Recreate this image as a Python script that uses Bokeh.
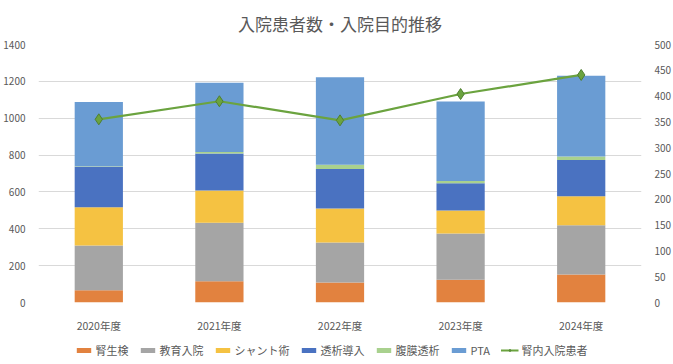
from bokeh.plotting import figure
from bokeh.layouts import column
from bokeh.models import (ColumnDataSource, FactorRange, Range1d, LinearAxis,
                          Legend, LegendItem, FixedTicker, Title)
from bokeh.embed import file_html
from bokeh.resources import INLINE

years = ["2020年度", "2021年度", "2022年度", "2023年度", "2024年度"]
series_names = ["腎生検", "教育入院", "シャント術", "透析導入", "腹膜透析", "PTA"]
biopsy = [67, 115, 108, 124, 152]
education = [242, 318, 217, 251, 267]
shunt = [208, 175, 185, 124, 158]
dialysis_intro = [220, 201, 215, 148, 196]
peritoneal = [3, 7, 23, 12, 19]
pta = [348, 376, 474, 432, 439]
inpatients = [355, 390, 353, 404, 441]
left_ticks = [0, 200, 400, 600, 800, 1000, 1200, 1400]
right_ticks = [0, 50, 100, 150, 200, 250, 300, 350, 400, 450, 500]

colors = ["#E2823F", "#A5A5A5", "#F5C242", "#4A72C1", "#A9D18E", "#6A9CD3"]
line_color = "#6BA33F"
FONT = "Noto Sans CJK JP"
TXT = "#595959"

keys = ["s0", "s1", "s2", "s3", "s4", "s5"]
data = dict(years=years, inpatients=inpatients)
for k, vals in zip(keys, [biopsy, education, shunt, dialysis_intro, peritoneal, pta]):
    data[k] = vals
source = ColumnDataSource(data)

p = figure(frame_width=603, frame_height=258, x_range=FactorRange(factors=years),
           y_range=Range1d(0, 1400), output_backend="svg", toolbar_location=None,
           min_border_left=28, min_border_right=26, min_border_top=8,
           min_border_bottom=2)
p.title = Title(text="入院患者数・入院目的推移", align="center",
                text_font=FONT, text_font_size="17px", text_color=TXT,
                text_font_style="normal", offset=0, standoff=17)
p.outline_line_color = None
p.background_fill_color = "white"
p.border_fill_color = "white"

p.extra_y_ranges = {"right": Range1d(0, 500)}

bars = p.vbar_stack(keys, x="years", width=0.4, color=colors, source=source,
                    line_color=None)

ln = p.line(x="years", y="inpatients", source=source, y_range_name="right",
            line_color=line_color, line_width=2.2)
mk = p.scatter(x="years", y="inpatients", source=source, y_range_name="right",
               marker="diamond", size=11, fill_color=line_color,
               line_color="#4F7F30", line_width=1)

# axes
p.yaxis.ticker = FixedTicker(ticks=left_ticks)
ra = LinearAxis(y_range_name="right", ticker=FixedTicker(ticks=right_ticks))
p.add_layout(ra, "right")
for ax in [p.yaxis[0], ra]:
    ax.axis_line_color = None
    ax.major_tick_line_color = None
    ax.minor_tick_line_color = None
    ax.major_label_text_font = FONT
    ax.major_label_text_font_size = "10px"
    ax.major_label_text_color = TXT
    ax.major_label_standoff = 7
xa = p.xaxis[0]
xa.axis_line_color = None
xa.major_tick_line_color = None
xa.major_label_text_font = FONT
xa.major_label_text_font_size = "10.5px"
xa.major_label_text_color = TXT
xa.major_label_standoff = 9

p.ygrid.grid_line_color = "#D9D9D9"
p.ygrid.ticker = FixedTicker(ticks=left_ticks)
p.xgrid.grid_line_color = None

# legend strip: a separate figure whose x range holds none of the data's
# categories, so its glyphs are not drawn and only the legend shows
lg = figure(width=657, height=30, x_range=FactorRange(factors=["legend"]),
            y_range=Range1d(-20, -10), output_backend="svg",
            toolbar_location=None, x_axis_type=None, y_axis_type=None,
            min_border=0)
lg.outline_line_color = None
lg.grid.grid_line_color = None
lg.border_fill_color = "white"
lg.background_fill_color = "white"
lg_items = []
for k, n, c in zip(keys, series_names, colors):
    r = lg.vbar(x="years", top=k, width=0.4, color=c, source=source,
                line_color=None)
    lg_items.append(LegendItem(label=n, renderers=[r]))
l2 = lg.line(x="years", y="inpatients", source=source, line_color=line_color,
             line_width=2.2)
m2 = lg.scatter(x="years", y="inpatients", source=source, marker="diamond",
                size=9, fill_color=line_color, line_color="#4F7F30",
                line_width=1)
lg_items.append(LegendItem(label="腎内入院患者", renderers=[l2, m2]))
legend = Legend(items=lg_items, orientation="horizontal", location="center",
                glyph_width=18, glyph_height=6, label_standoff=3, spacing=10,
                label_text_font=FONT, label_text_font_size="11px",
                label_text_color=TXT, border_line_color=None,
                background_fill_alpha=0, padding=0, margin=0,
                label_height=14)
lg.add_layout(legend, "center")

layout = column(p, lg, spacing=0)
open("out.html", "w").write(file_html(layout, INLINE))
